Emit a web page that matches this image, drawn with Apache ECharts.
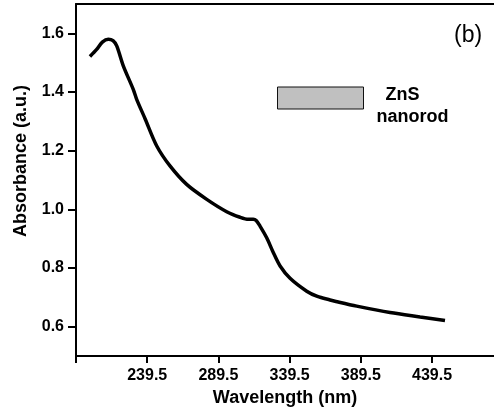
<!DOCTYPE html>
<html>
<head>
<meta charset="utf-8">
<script src="https://cdn.jsdelivr.net/npm/echarts@6/dist/echarts.min.js"></script>
<style>
    html, body { margin: 0; padding: 0; background: #fff; }
    #chart { width: 494px; height: 412px; }
</style>
</head>
<body>
<div id="chart"></div>
<script>
// wavelength (nm) / absorbance (a.u.)
const wavelength = [199.3, 204, 208, 212.2, 215.5, 218.1, 222.7, 229.7, 232.1, 238, 246.2, 255.5, 267.2, 281.3, 295.3, 304.7, 310.5, 314, 316, 318.7, 323.4, 328.1, 332.8, 339.8, 351.5, 359, 367.9, 372, 386.6, 410, 431.1, 448.6]
const absorbance = [1.521, 1.545, 1.570, 1.580, 1.575, 1.557, 1.489, 1.409, 1.375, 1.309, 1.216, 1.148, 1.085, 1.034, 0.992, 0.973, 0.966, 0.966, 0.962, 0.943, 0.903, 0.852, 0.807, 0.765, 0.721, 0.703, 0.691, 0.686, 0.670, 0.648, 0.633, 0.621]
const xTicks = [189.5, 239.5, 289.5, 339.5, 389.5, 439.5]
const yTicks = [0.6, 0.8, 1.0, 1.2, 1.4, 1.6]
const seriesName = 'ZnS nanorod'

const font = '"Liberation Sans", Arial, sans-serif'
const myChart = echarts.init(document.getElementById('chart'))

myChart.setOption({
    animation: false,
    title: {
        text: '(b)',
        left: 449,
        top: 19,
        textStyle: { fontFamily: font, fontSize: 23, fontWeight: 'normal', color: '#000' }
    },
    legend: {
        left: 277,
        top: 68,
        padding: 0,
        icon: 'rect',
        itemWidth: 86,
        itemHeight: 22,
        itemStyle: { color: '#c0c0c0', borderColor: '#111', borderWidth: 1 },
        formatter: () => '{a|ZnS}\n{b|nanorod}',
        textStyle: {
            fontFamily: font,
            fontSize: 18,
            fontWeight: 'bold',
            color: '#000',
            lineHeight: 22,
            padding: [16, 0, 0, 8],
            rich: {
                a: { fontFamily: font, fontSize: 18, fontWeight: 'bold', padding: [0, 0, 0, 9] },
                b: { fontFamily: font, fontSize: 18, fontWeight: 'bold' }
            }
        },
        data: [seriesName]
    },
    grid: {
        left: 76,
        right: 0,
        top: 4,
        bottom: 56
    },
    xAxis: [
        {
            type: 'value',
            min: 189.5,
            max: 483,
            name: 'Wavelength (nm)',
            nameLocation: 'middle',
            nameGap: 26,
            nameTextStyle: { fontFamily: font, fontSize: 18, fontWeight: 'bold', color: '#000' },
            axisLine: { lineStyle: { color: '#000', width: 2 } },
            axisTick: { customValues: xTicks, length: 7, lineStyle: { color: '#000', width: 2 } },
            axisLabel: {
                customValues: xTicks.slice(1),
                margin: 12,
                fontFamily: font, fontSize: 16, fontWeight: 'bold', color: '#000',
                formatter: v => v.toFixed(1)
            },
            splitLine: { show: false }
        },
        {
            // top frame line only
            type: 'value',
            position: 'top',
            min: 189.5,
            max: 483,
            axisLine: { show: true, lineStyle: { color: '#000', width: 2 } },
            axisTick: { show: false },
            axisLabel: { show: false },
            splitLine: { show: false }
        }
    ],
    yAxis: {
        type: 'value',
        min: 0.5,
        max: 1.7,
        name: 'Absorbance (a.u.)',
        nameLocation: 'middle',
        nameGap: 46,
        nameTextStyle: {
            fontFamily: font, fontSize: 18, fontWeight: 'bold', color: '#000',
            padding: [0, 0, 0, 38]
        },
        axisLine: { lineStyle: { color: '#000', width: 2 } },
        axisTick: { customValues: yTicks, length: 8, lineStyle: { color: '#000', width: 2 } },
        axisLabel: {
            customValues: yTicks,
            margin: 12,
            fontFamily: font, fontSize: 16, fontWeight: 'bold', color: '#000',
            formatter: v => v.toFixed(1)
        },
        splitLine: { show: false }
    },
    series: [
        {
            name: seriesName,
            type: 'line',
            symbol: 'none',
            smooth: 0.3,
            data: wavelength.map((w, i) => [w, absorbance[i]]),
            lineStyle: { color: '#000', width: 3.5 },
            itemStyle: { color: '#c0c0c0' }
        }
    ]
})
</script>
</body>
</html>
